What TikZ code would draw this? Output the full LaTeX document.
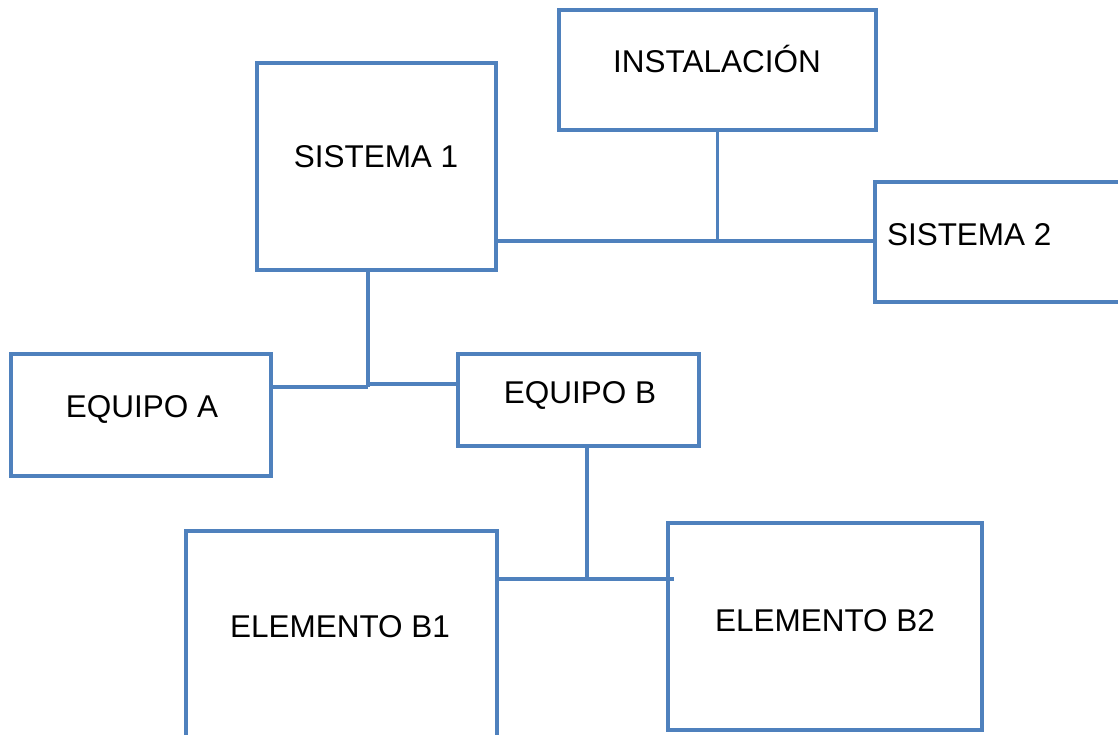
\documentclass[tikz,border=0pt]{standalone}
\usepackage{fontspec}
\setmainfont{Liberation Sans}
\definecolor{boxblue}{RGB}{79,129,189}
\begin{document}
\begin{tikzpicture}[x=1bp,y=-1bp,
  box/.style={draw=boxblue,line width=3.2bp,rectangle,inner sep=0pt,outer sep=0pt,fill=none},
  lbl/.style={inner sep=0pt,outer sep=0pt,anchor=base,font=\fontsize{31.6}{38}\selectfont,text=black},
  conn/.style={draw=boxblue,line width=3.2bp}]
\clip (0,0) rectangle (1118,735);
\fill[white] (0,0) rectangle (1118,735);
% boxes
\node[box,minimum width=239bp,minimum height=207bp] (s1) at (376.5,166.5) {};
\node[box,minimum width=317bp,minimum height=120bp] (inst) at (717.5,70) {};
\node[box,minimum width=265bp,minimum height=120bp] (s2) at (1007.5,242) {};
\node[box,minimum width=260bp,minimum height=122bp] (ea) at (141,415) {};
\node[box,minimum width=241bp,minimum height=92bp] (eb) at (578.5,400) {};
\node[box,minimum width=311bp,minimum height=269bp] (b1) at (341.5,665.5) {};
\node[box,minimum width=314bp,minimum height=207bp] (b2) at (825,626.5) {};
% labels
\node[lbl] (t1) at (376,168) {SISTEMA 1};
\node[lbl] (t2) at (717,73) {INSTALACIÓN};
\node[lbl,anchor=base west] (t3) at (887,245) {SISTEMA 2};
\node[lbl] (t4) at (142,417) {EQUIPO A};
\node[lbl] (t5) at (580,403) {EQUIPO B};
\node[lbl] (t6) at (340,637) {ELEMENTO B1};
\node[lbl] (t7) at (825,631) {ELEMENTO B2};
% junctions
\coordinate (j1) at (717.5,241);
\coordinate (j2) at (368,387);
\coordinate (j3) at (368,384);
\coordinate (j4) at (587,579);
\coordinate (j5) at (674,579);
% connectors
\draw[conn] (s1.east |- j1) -- (s2.west |- j1);
\draw[conn] (inst.south) -- (j1);
\draw[conn] (s1.south -| j2) -- (j2);
\draw[conn] (ea.east |- j2) -- (j2);
\draw[conn] (j3) -- (eb.west |- j3);
\draw[conn] (eb.south -| j4) -- (j4);
\draw[conn] (b1.east |- j4) -- (j5);
\end{tikzpicture}
\end{document}
